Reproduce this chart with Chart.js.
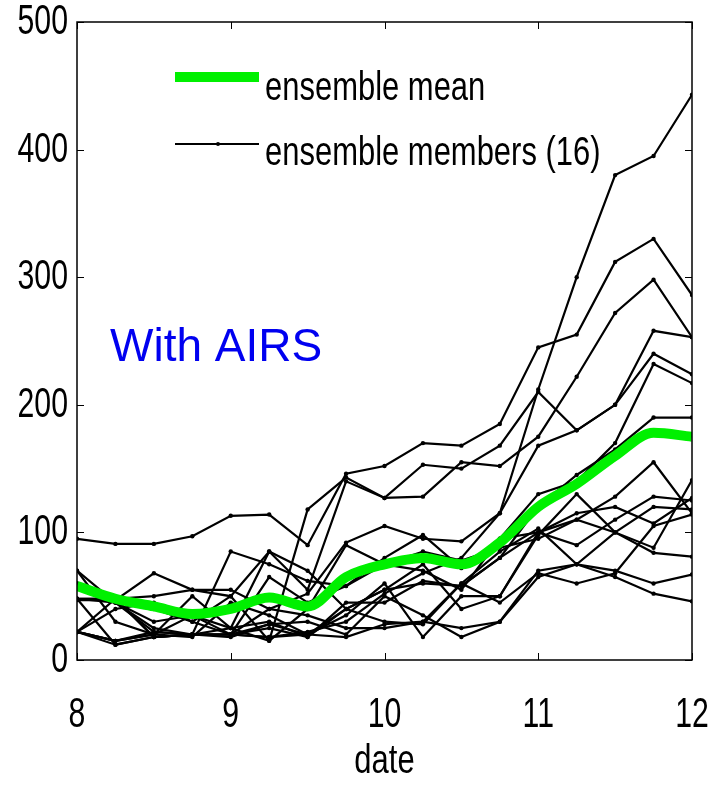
<!DOCTYPE html>
<html>
<head>
<meta charset="utf-8">
<script src="https://cdn.jsdelivr.net/npm/chart.js@4"></script>
<style>
  html, body { margin: 0; padding: 0; background: #fff; }
  #wrap { width: 716px; height: 785px; }
</style>
</head>
<body>
<div id="wrap"><canvas id="ensembleChart" width="716" height="785"></canvas></div>
<script>
// x positions: 8 .. 12 every quarter day
const dates = [8, 8.25, 8.5, 8.75, 9, 9.25, 9.5, 9.75, 10, 10.25, 10.5, 10.75, 11, 11.25, 11.5, 11.75, 12];
const xTicks = [8, 9, 10, 11, 12];
const yTicks = [0, 100, 200, 300, 400, 500];

const ensembleMean = [58, 48, 42, 36, 40, 49, 42, 65, 75, 80, 75, 92, 120, 138, 160, 178, 175];

// 16 members
const member01 = [95, 91, 91, 97, 113, 114, 90, 146, 152, 170, 168, 185, 245, 255, 312, 330, 286];
const member02 = [70, 45, 22, 20, 20, 18, 22, 30, 52, 68, 80, 115, 212, 300, 380, 395, 443];
const member03 = [47, 47, 68, 55, 50, 85, 55, 140, 127, 128, 155, 152, 175, 222, 272, 298, 253];
const member04 = [22, 12, 18, 20, 25, 15, 118, 143, 127, 153, 150, 168, 210, 180, 200, 258, 253];
const member05 = [48, 48, 50, 55, 55, 40, 52, 92, 105, 95, 93, 115, 168, 180, 200, 240, 224];
const member06 = [22, 48, 18, 20, 85, 75, 62, 58, 80, 98, 72, 95, 130, 140, 170, 232, 217];
const member07 = [70, 30, 20, 35, 25, 85, 70, 40, 55, 60, 58, 80, 120, 145, 165, 190, 190];
const member08 = [48, 45, 25, 20, 20, 65, 45, 58, 75, 70, 55, 95, 100, 110, 128, 155, 115];
const member09 = [22, 15, 20, 18, 45, 35, 20, 35, 60, 18, 50, 50, 98, 130, 100, 88, 141];
const member10 = [60, 45, 30, 35, 20, 25, 18, 45, 45, 62, 58, 80, 100, 115, 120, 107, 127];
const member11 = [48, 12, 18, 20, 20, 40, 35, 25, 25, 30, 25, 30, 65, 75, 100, 120, 118];
const member12 = [22, 15, 22, 20, 18, 28, 20, 40, 55, 75, 40, 50, 100, 90, 110, 128, 125];
const member13 = [48, 48, 18, 20, 20, 28, 30, 20, 50, 35, 18, 30, 70, 75, 70, 60, 67];
const member14 = [22, 15, 20, 50, 25, 30, 18, 40, 30, 28, 60, 85, 103, 75, 65, 52, 46];
const member15 = [60, 48, 40, 30, 50, 15, 40, 90, 75, 85, 78, 88, 95, 110, 100, 84, 81];
const member16 = [22, 40, 45, 30, 20, 18, 20, 18, 28, 30, 60, 45, 68, 60, 68, 105, 114];

const members = [member01, member02, member03, member04, member05, member06, member07, member08,
                 member09, member10, member11, member12, member13, member14, member15, member16];

const FONT = '"Liberation Sans", Arial, sans-serif';
const MEAN_GREEN = '#00f000';

function toPoints(values) {
    return values.map((v, i) => ({ x: dates[i], y: v }));
}

// narrow, slightly tall text like the original figure
function tallText(ctx, text, x, y, align, size, sx, sy) {
    ctx.save();
    ctx.font = size + 'px ' + FONT;
    ctx.textAlign = align;
    ctx.textBaseline = 'middle';
    ctx.translate(x, y);
    ctx.scale(sx, sy);
    ctx.fillText(text, 0, 0);
    ctx.restore();
}

const frame = {
    id: 'frame',
    afterDraw(chart) {
        const ctx = chart.ctx;
        const a = chart.chartArea;
        const xs = chart.scales.x;
        const ys = chart.scales.y;

        ctx.save();
        ctx.strokeStyle = '#000';
        ctx.lineWidth = 1.5;
        ctx.strokeRect(a.left, a.top, a.right - a.left, a.bottom - a.top);

        // inward ticks on all four sides
        ctx.lineWidth = 1;
        ctx.beginPath();
        yTicks.forEach(t => {
            const py = Math.round(ys.getPixelForValue(t)) + 0.5;
            ctx.moveTo(a.left, py); ctx.lineTo(a.left + 7, py);
            ctx.moveTo(a.right, py); ctx.lineTo(a.right - 7, py);
        });
        xTicks.forEach(t => {
            const px = Math.round(xs.getPixelForValue(t)) + 0.5;
            ctx.moveTo(px, a.bottom); ctx.lineTo(px, a.bottom - 7);
            ctx.moveTo(px, a.top); ctx.lineTo(px, a.top + 7);
        });
        ctx.stroke();

        ctx.fillStyle = '#000';
        yTicks.forEach(t => tallText(ctx, String(t), a.left - 9, ys.getPixelForValue(t), 'right', 36, 0.84, 1.2));
        xTicks.forEach(t => tallText(ctx, String(t), xs.getPixelForValue(t), a.bottom + 55, 'center', 36, 0.84, 1.2));
        tallText(ctx, 'date', (a.left + a.right) / 2, a.bottom + 102, 'center', 36, 0.86, 1.15);

        // legend
        ctx.lineCap = 'butt';
        ctx.strokeStyle = MEAN_GREEN;
        ctx.lineWidth = 10;
        ctx.beginPath(); ctx.moveTo(175, 77); ctx.lineTo(259, 77); ctx.stroke();
        ctx.strokeStyle = '#000';
        ctx.lineWidth = 2.2;
        ctx.beginPath(); ctx.moveTo(175, 144); ctx.lineTo(259, 144); ctx.stroke();
        ctx.beginPath(); ctx.arc(218, 144, 2, 0, Math.PI * 2); ctx.fill();
        tallText(ctx, 'ensemble mean', 265, 89, 'left', 36, 0.86, 1.12);
        tallText(ctx, 'ensemble members (16)', 265, 154, 'left', 36, 0.86, 1.12);

        // annotation
        ctx.fillStyle = '#0000f0';
        ctx.font = '46px "Liberation Sans", Arial, sans-serif';
        ctx.textAlign = 'left';
        ctx.textBaseline = 'alphabetic';
        ctx.fillText('With AIRS', 110, 361);
        ctx.restore();
    }
};

const datasets = [{
    label: 'ensemble mean',
    data: toPoints(ensembleMean),
    borderColor: MEAN_GREEN,
    borderWidth: 10,
    pointRadius: 0,
    tension: 0.4,
    cubicInterpolationMode: 'monotone',
    order: 0
}];
members.forEach((m, i) => {
    datasets.push({
        label: 'member ' + (i + 1),
        data: toPoints(m),
        borderColor: '#000',
        borderWidth: 2.2,
        pointRadius: 2.2,
        pointBackgroundColor: '#000',
        pointBorderWidth: 0,
        tension: 0,
        order: 1
    });
});

new Chart(document.getElementById('ensembleChart').getContext('2d'), {
    type: 'line',
    data: { datasets },
    plugins: [frame],
    options: {
        responsive: false,
        animation: false,
        devicePixelRatio: 1,
        layout: { padding: { top: 22, right: 24, left: 0, bottom: 0 } },
        plugins: { legend: { display: false }, tooltip: { enabled: false } },
        scales: {
            x: {
                type: 'linear', min: 8, max: 12,
                grid: { display: false }, border: { display: false },
                ticks: { display: false },
                afterFit: s => { s.height = 125; }
            },
            y: {
                min: 0, max: 500,
                grid: { display: false }, border: { display: false },
                ticks: { display: false },
                afterFit: s => { s.width = 77; }
            }
        }
    }
});
</script>
</body>
</html>
